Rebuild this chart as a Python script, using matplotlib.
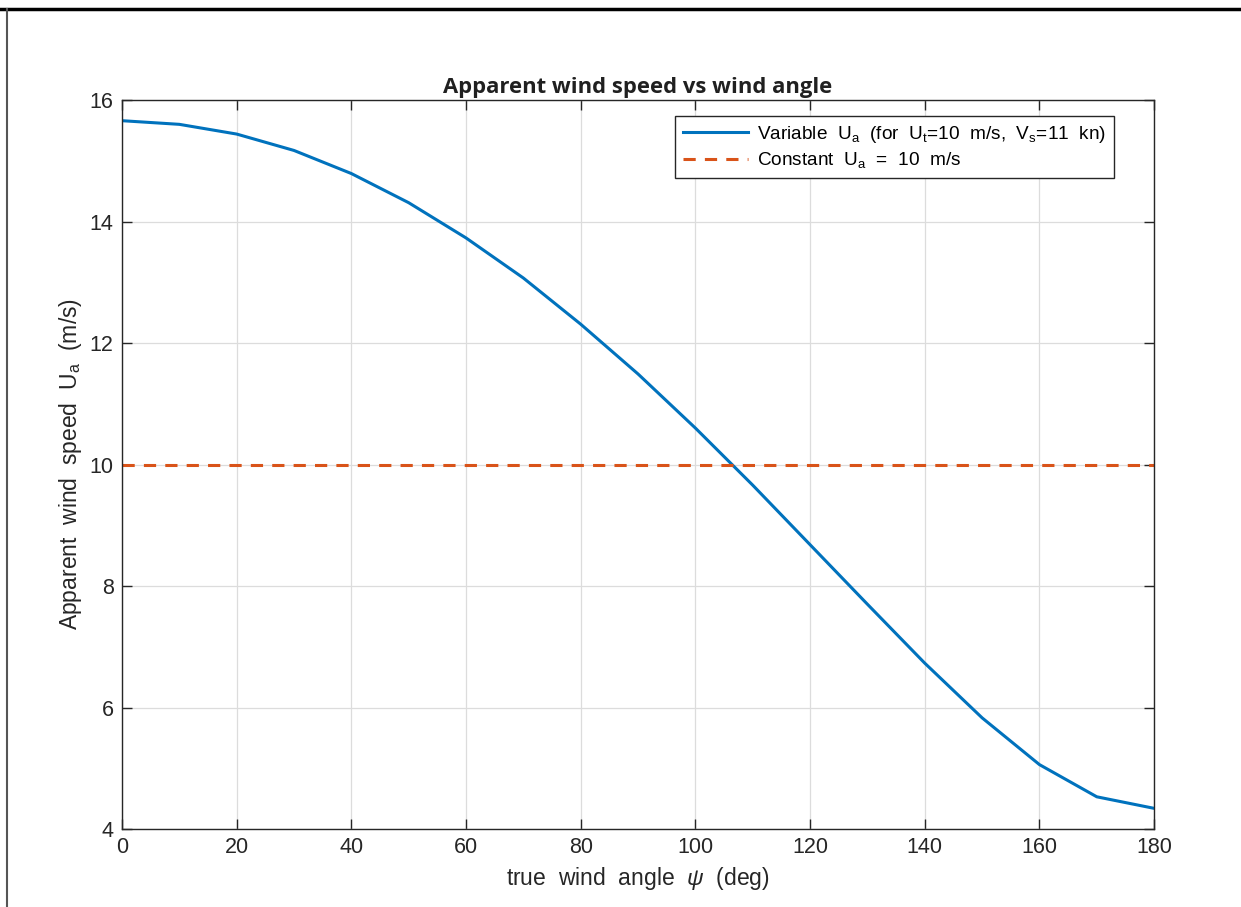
import numpy as np
import matplotlib
matplotlib.use("Agg")
import matplotlib.pyplot as plt
from matplotlib.lines import Line2D

plt.rcParams['font.family'] = ['Liberation Sans', 'DejaVu Sans']
plt.rcParams['mathtext.fontset'] = 'custom'
plt.rcParams['mathtext.rm'] = 'Liberation Sans'
plt.rcParams['mathtext.it'] = 'Liberation Sans:italic'

# data
angle_deg = [0, 10, 20, 30, 40, 50, 60, 70, 80, 90,
             100, 110, 120, 130, 140, 150, 160, 170, 180]
ua_variable = [15.66, 15.60, 15.44, 15.17, 14.79, 14.31, 13.73, 13.07, 12.31, 11.49,
               10.60, 9.66, 8.68, 7.70, 6.73, 5.83, 5.06, 4.53, 4.34]
ua_constant = 10

x_ticks = [0, 20, 40, 60, 80, 100, 120, 140, 160, 180]
y_ticks = [4, 6, 8, 10, 12, 14, 16]

fig = plt.figure(figsize=(12.41, 9.07), dpi=100)
ax = fig.add_axes([0.0983, 0.086, 0.8317, 0.8037])

ax.plot(angle_deg, ua_variable, color='#0072BD', lw=2.2,
        label=r'Variable  U$_\mathrm{a}$  (for  U$_\mathrm{t}$=10  m/s,  V$_\mathrm{s}$=11  kn)')
ax.plot([angle_deg[0], angle_deg[-1]], [ua_constant, ua_constant], color='#D95319',
        lw=2.2, ls=(0, (4, 3)), label=r'Constant  U$_\mathrm{a}$  =  10  m/s')

ax.set_xlim(0, 180)
ax.set_ylim(4, 16)
ax.set_xticks(x_ticks)
ax.set_yticks(y_ticks)
ax.grid(True, color='#dcdcdc', lw=0.9)
ax.set_axisbelow(True)
ax.tick_params(direction='in', length=7, width=1, colors='#262626', labelsize=15.5,
               top=True, right=True, pad=6)
for s in ax.spines.values():
    s.set_color('#262626')
    s.set_linewidth(1)

ax.set_title('Apparent wind speed vs wind angle', fontsize=15.8, fontweight='bold',
             family=['Open Sans', 'DejaVu Sans'], color='#202020', pad=5)
ax.set_xlabel(r'true  wind  angle  $\psi$  (deg)', fontsize=16.5, color='#262626', labelpad=5)
ax.set_ylabel(r'Apparent  wind  speed  U$_\mathrm{a}$  (m/s)', fontsize=16.5, color='#262626',
              labelpad=4)

leg = ax.legend(loc='upper right', bbox_to_anchor=(0.961, 0.978), borderaxespad=0,
                fontsize=13.7, fancybox=False, edgecolor='#262626', framealpha=1,
                handlelength=3.4, borderpad=0.4, labelspacing=0.3, handletextpad=0.5)
leg.get_frame().set_linewidth(1)

# outer frame lines
fig.add_artist(Line2D([0, 1], [0.9905, 0.9905], color='black', lw=2.5,
                      transform=fig.transFigure))
fig.add_artist(Line2D([0.0058, 0.0058], [0, 0.9905], color='#555555', lw=1.5,
                      transform=fig.transFigure))

fig.savefig('out.png', dpi=100)
